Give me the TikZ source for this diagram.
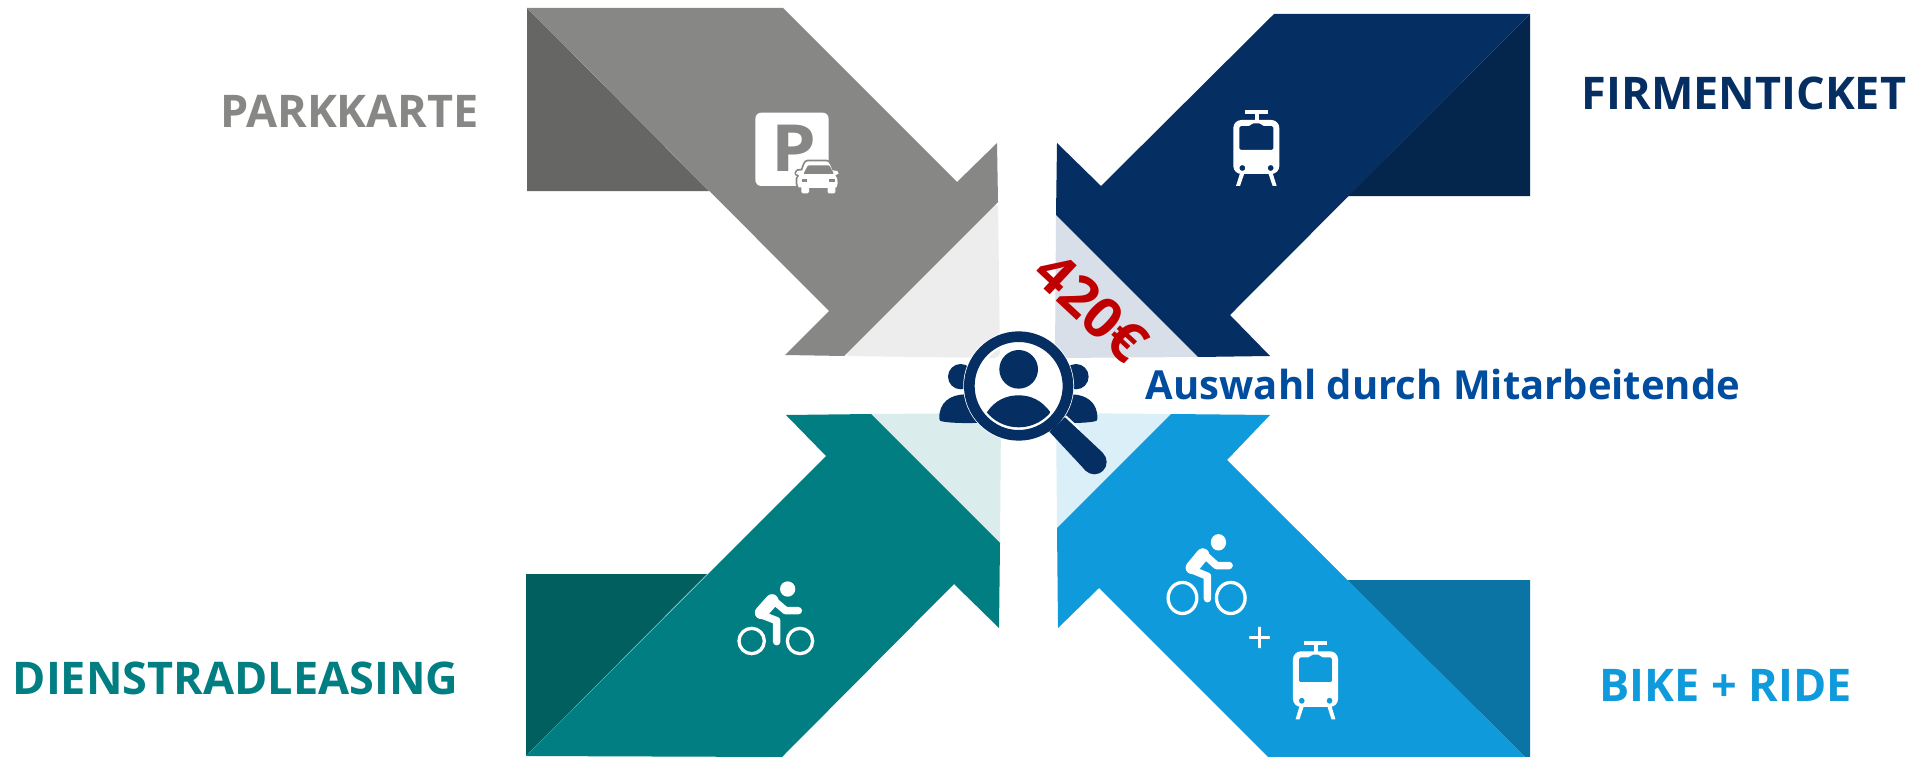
\documentclass[tikz,border=0pt]{standalone}
\usepackage{fontspec}
\setmainfont{Open Sans}
\definecolor{grayM}{HTML}{878785}\definecolor{grayD}{HTML}{666664}\definecolor{grayL}{HTML}{EDEDED}
\definecolor{navyM}{HTML}{052E62}\definecolor{navyD}{HTML}{04264D}\definecolor{navyL}{HTML}{D9DFE8}
\definecolor{tealM}{HTML}{017E81}\definecolor{tealD}{HTML}{025F60}\definecolor{tealL}{HTML}{DAECEB}
\definecolor{blueM}{HTML}{0F9BDB}\definecolor{blueD}{HTML}{0C74A5}\definecolor{blueL}{HTML}{DBEFF9}
\definecolor{selectT}{HTML}{004C9E}\definecolor{redT}{HTML}{C00000}
\tikzset{
  label text/.style={font=\bfseries\fontsize{#1}{#1}\selectfont,inner sep=0pt},
  solid icon/.style={fill=white},
}
\newcommand{\bikeicon}[2]{%
  \fill[solid icon] (203,57) circle (23);
  \draw[white,line width=3.3pt] (95,213) ellipse ({#1} and {#2});
  \draw[white,line width=3.3pt] (240,213) ellipse ({#1} and {#2});
  \draw[white,line width=13pt,line cap=round] (156,92) -- (124,128);
  \draw[white,line width=7.5pt,line cap=round,line join=round] (157,88) -- (197,122) -- (235,122);
  \draw[white,line width=7.5pt,line cap=round,line join=round] (118,132) -- (170,152) -- (170,215);
}
\newcommand{\tramicon}{%
  \fill[solid icon] (135,30) rectangle (203,42);
  \fill[solid icon] (164,42) rectangle (176,62);
  \fill[solid icon,even odd rule]
    [rounded corners=8pt] (100,60) -- (238,60) -- (238,222) -- (100,222) -- cycle
    [rounded corners=1.5pt] (118,78) -- (150,78) -- (156,70) -- (182,70) -- (188,78) -- (220,78) -- (220,150) -- (118,150) -- cycle
    [sharp corners] (127,204) circle (9) (212,204) circle (9);
  \fill[solid icon] (120,220) -- (108,258) -- (120,258) -- (133,220) -- cycle;
  \fill[solid icon] (218,220) -- (230,258) -- (218,258) -- (205,220) -- cycle;
}
\newcommand{\carpath}{%
  (204,184) -- (258,184) .. controls (268,184) and (272,198) .. (277,211) -- (292,213) -- (296,221) -- (286,226)
  .. controls (292,232) and (293,240) .. (293,250) -- (290,262) -- (286,262) -- (286,276) .. controls (286,279) and (285,280) .. (282,280) -- (267,280) .. controls (264,280) and (263,279) .. (263,276) -- (263,264)
  -- (207,264) -- (207,276) .. controls (207,279) and (206,280) .. (203,280) -- (188,280) .. controls (185,280) and (184,279) .. (184,276) -- (184,262) -- (176,262) -- (172,250)
  .. controls (170,240) and (172,232) .. (178,226) -- (168,221) -- (172,213) -- (187,211)
  .. controls (192,198) and (194,184) .. (204,184) -- cycle
}
\begin{document}
\begin{tikzpicture}[x=1pt,y=-1pt]
\useasboundingbox (0,0) rectangle (1916,757);
\fill[white] (0,0) rectangle (1916,757);

% parkkarte arrow
\fill[grayL,rounded corners=6pt] (998,202) -- (1000,358) -- (844,356) -- cycle;
\fill[grayD] (527,8) -- (527,191) -- (709,191) -- cycle;
\fill[grayM] (527,8) -- (783,8) -- (957,182) -- (997,143) -- (998,202) -- (844,356) -- (785,355) -- (829,311) -- cycle;

% firmenticket arrow
\fill[navyL] (1056,215) -- (1055,358) -- (1198,357) -- cycle;
\fill[navyD] (1530,14) -- (1530,196) -- (1348,196) -- cycle;
\fill[navyM] (1274,14) -- (1530,14) -- (1230,315) -- (1270,356) -- (1198,357) -- (1056,215) -- (1057,143) -- (1101,186) -- cycle;

% dienstradleasing arrow
\fill[tealL] (1000,543) -- (1001,413) -- (871,414) -- cycle;
\fill[tealD] (526,756) -- (526,574) -- (707,574) -- cycle;
\fill[tealM] (526,756) -- (782,757) -- (954,584) -- (999,628) -- (1000,543) -- (871,414) -- (786,415) -- (826,456) -- cycle;

% bike + ride arrow
\fill[blueL] (1057,528) -- (1056,413) -- (1171,414) -- cycle;
\fill[blueD] (1347,580) -- (1530,580) -- (1530,757) -- (1525,757) -- cycle;
\fill[blueM] (1525,757) -- (1268,757) -- (1099,588) -- (1058,628) -- (1057,528) -- (1171,414) -- (1270,415) -- (1227,460) -- cycle;

% parking icon
\begin{scope}[shift={(740,100)},x=.3333pt,y=-.3333pt]
  \fill[solid icon,rounded corners=6pt] (46,38) rectangle (266,258);
  \node[label text=65,text=grayM,xscale=1.1] (parksign) at (162,144) {P};
  \draw[grayM,line width=3.5pt,line join=round] \carpath;
  \fill[white] \carpath;
  \fill[grayM,rounded corners=1pt] (190,222) -- (204,196) -- (268,196) -- (282,222) -- cycle;
  \fill[grayM] (186,237) rectangle (201,245);
  \fill[grayM] (268,237) rectangle (284,245);
\end{scope}

% tram icons
\begin{scope}[shift={(1200,100)},x=.3333pt,y=-.3333pt]
  \tramicon
\end{scope}
\begin{scope}[shift={(1260.3,630.7)},x=.3266pt,y=-.3433pt]
  \tramicon
\end{scope}

% bicycle icons
\begin{scope}[shift={(720,570)},x=.3333pt,y=-.3333pt]
  \bikeicon{38}{38}
\end{scope}
\begin{scope}[shift={(1150.8,522)},x=.3333pt,y=-.3567pt]
  \bikeicon{43}{43.5}
\end{scope}
\node[inner sep=0pt,text=white,font=\fontsize{44}{44}\selectfont] (plus) at (1260,640) {+};

% person under magnifier
\begin{scope}[shift={(920,310)},x=.3333pt,y=-.3333pt]
  \fill[navyM] (122,200) circle (38) (468,200) circle (38);
  \fill[navyM] (58,326) .. controls (56,278) and (90,254) .. (135,253) -- (190,338)
     .. controls (150,340) and (95,340) .. (65,334) .. controls (60,333) and (58,331) .. (58,326) -- cycle;
  \fill[navyM] (532,326) .. controls (534,278) and (500,254) .. (455,253) -- (400,338)
     .. controls (440,340) and (495,340) .. (525,334) .. controls (530,333) and (532,331) .. (532,326) -- cycle;
  \draw[white,line width=5.5pt] (296,228) circle (158);
  \draw[white,line width=2pt] (296,228) circle (128);
  \fill[navyM,even odd rule] (296,228) circle (164) (296,228) circle (132);
  \fill[navyM] (296,178) circle (58);
  \begin{scope}
    \clip (296,228) circle (124);
    \fill[navyM] (200,308) .. controls (225,270) and (260,256) .. (296,256) .. controls (332,256) and (365,270) .. (392,308) -- (392,400) -- (200,400) -- cycle;
  \end{scope}
  \draw[white,line width=3pt] (436,320) -- (478,359);
  \fill[navyM] (435,322) -- (548,428) -- (497,482) -- (388,365) -- cycle;
  \fill[navyM] (523,456) circle (37);
\end{scope}

% labels
\node[label text=45,text=grayM] (parkkarte) at (349.5,111) {PARKKARTE};
\node[label text=45,text=navyM] (firmenticket) at (1744,93) {FIRMENTICKET};
\node[label text=45,text=tealM] (dienstrad) at (235.5,678) {DIENSTRADLEASING};
\node[label text=45,text=blueM] (bikeride) at (1725.5,685) {BIKE + RIDE};
\node[label text=40,text=selectT] (auswahl) at (1443,384) {Auswahl durch Mitarbeitende};
\node[label text=54,text=redT,rotate=-43,xscale=1.06,yscale=1.03] (amount) at (1091.5,307) {420€};
\end{tikzpicture}
\end{document}
